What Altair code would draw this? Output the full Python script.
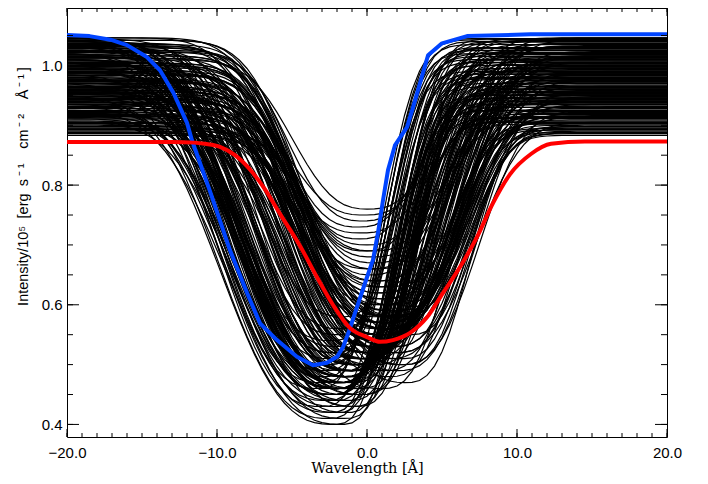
import numpy as np
import pandas as pd
import altair as alt

# ---------------- data ----------------
blue_x = [-20, -18.5, -17.1, -16, -14.67, -13.8, -12.9, -12, -11.67, -10.47, -9.13, -8.0,
          -7.13, -6.0, -4.67, -3.6, -2.67, -2.0, -1.6, -1.2, -0.67, 0.0, 0.4, 0.73, 1.07,
          1.4, 1.87, 2.67, 3.07, 4.07, 5.0, 6.67, 10.9, 20]
blue_y = [1.051, 1.049, 1.043, 1.034, 1.014, 0.992, 0.954, 0.904, 0.875, 0.79, 0.691, 0.620,
          0.569, 0.541, 0.513, 0.499, 0.503, 0.513, 0.529, 0.556, 0.596, 0.646, 0.675, 0.720, 0.775,
          0.825, 0.867, 0.897, 0.930, 1.017, 1.037, 1.049, 1.052, 1.052]

red_x = [-20, -13, -11.5, -10.8, -9.8, -8.8, -7.8, -6.8, -5.8, -4.5, -3.33, -2.27, -1.13,
         0.0, 0.87, 1.73, 2.87, 4.0, 5.07, 6.2, 7.33, 8.4, 9.53, 10.93, 12.27, 14.53, 20]
red_y = [0.872, 0.872, 0.871, 0.869, 0.864, 0.850, 0.826, 0.793, 0.752, 0.700, 0.646, 0.600, 0.561,
         0.546, 0.538, 0.541, 0.553, 0.579, 0.620, 0.663, 0.713, 0.770, 0.818, 0.852, 0.869, 0.873, 0.873]

# black profiles (estimated): (continuum, minimum, line centre, left width, right width)
deep_profiles = [
    (0.950, 0.400, -2.2, 9.0, 4.8), (0.970, 0.410, -2.5, 8.8, 5.0), (1.000, 0.420, -1.9, 8.9, 4.6),
    (1.020, 0.430, -3.0, 8.4, 5.2), (0.930, 0.440, -1.5, 8.8, 5.0), (0.990, 0.420, -1.3, 8.6, 4.8),
    (1.030, 0.450, -2.3, 8.4, 5.0), (0.960, 0.460, -1.0, 8.8, 5.0), (0.980, 0.440, -2.7, 8.2, 5.3),
    (1.010, 0.470, -1.7, 8.4, 4.9), (0.940, 0.430, -0.7, 8.6, 5.2), (1.040, 0.460, -2.0, 8.0, 5.0),
    (0.920, 0.450, -0.3, 8.4, 5.4), (0.970, 0.480, -1.4, 8.2, 5.1), (0.905, 0.410, -1.5, 8.6, 5.0),
    (0.925, 0.430, -2.0, 8.9, 4.9), (0.945, 0.400, -1.7, 9.0, 4.8), (0.965, 0.440, -1.1, 8.5, 5.1),
    (0.985, 0.420, -2.4, 8.7, 4.7), (1.005, 0.450, -1.4, 8.3, 5.0), (1.025, 0.430, -0.9, 8.6, 5.2),
    (1.045, 0.470, -1.8, 8.2, 4.9), (0.915, 0.460, -0.5, 8.8, 5.3), (0.935, 0.440, -2.1, 8.5, 4.8),
    (0.955, 0.480, -1.2, 8.3, 5.1), (0.975, 0.450, -0.4, 8.9, 5.4), (0.995, 0.470, -1.6, 8.1, 5.0),
    (1.015, 0.490, -0.8, 8.4, 5.2),
]

steep_cont = [1.045, 1.040, 1.035, 1.030, 1.025, 1.020, 1.015, 1.010, 1.000, 0.990, 0.980, 1.043, 1.028, 1.005]
steep_min = [0.50, 0.52, 0.48, 0.55, 0.51, 0.47, 0.53, 0.50, 0.56, 0.49, 0.52, 0.46, 0.58, 0.54]
steep_centre = [-2.6, -2.2, -2.8, -1.9, -2.4, -3.0, -2.0, -2.5, -1.7, -2.7, -2.1, -3.2, -1.5, -2.3]
steep_wl = [7.8, 7.6, 8.0, 7.4, 7.7, 8.2, 7.5, 7.9, 7.3, 8.0, 7.6, 8.3, 7.2, 7.7]
steep_wr = [4.6, 4.5, 4.7, 4.5, 4.6, 4.8, 4.5, 4.6, 4.5, 4.7, 4.6, 4.9, 4.4, 4.6]

mid_cont = [0.902, 0.904, 0.907, 0.909, 0.911, 0.914, 0.916, 0.918, 0.921, 0.923, 0.925, 0.928, 0.930, 0.932,
            0.935, 0.937, 0.939, 0.942, 0.944, 0.946, 0.949, 0.951, 0.953, 0.956, 0.958, 0.960, 0.963, 0.965,
            0.967, 0.970, 0.972, 0.974, 0.977, 0.979, 0.981, 0.984, 0.986, 0.988, 0.991, 0.993, 0.995, 0.998,
            1.000, 1.002, 1.005, 1.007, 1.009, 1.012, 1.014, 1.016, 1.019, 1.021, 1.023, 1.026, 1.028, 1.030,
            1.033, 1.035, 1.037, 1.040, 1.042, 1.044, 1.046, 0.947, 0.962, 0.976, 0.989, 1.003, 1.018, 1.032,
            0.903, 0.913, 0.924, 0.934, 0.943, 0.952, 0.961, 0.969, 0.978, 0.987, 0.996, 1.004, 1.013, 1.022,
            1.031, 1.039, 1.046, 0.919, 0.957, 0.994]
mid_min = [0.47, 0.52, 0.49, 0.55, 0.46, 0.51, 0.57, 0.48, 0.53, 0.50, 0.45, 0.54, 0.49, 0.56, 0.47, 0.52,
           0.58, 0.48, 0.51, 0.46, 0.55, 0.50, 0.53, 0.47, 0.57, 0.49, 0.52, 0.45, 0.54, 0.48, 0.56, 0.51,
           0.46, 0.53, 0.50, 0.58, 0.47, 0.52, 0.49, 0.55, 0.46, 0.51, 0.57, 0.48, 0.53, 0.50, 0.45, 0.54,
           0.49, 0.56, 0.47, 0.52, 0.58, 0.48, 0.51, 0.46, 0.55, 0.50, 0.53, 0.47, 0.57, 0.49, 0.52, 0.50,
           0.48, 0.54, 0.46, 0.52, 0.49, 0.55,
           0.51, 0.46, 0.55, 0.49, 0.53, 0.47, 0.57, 0.50, 0.45, 0.54, 0.48, 0.56, 0.51, 0.46, 0.53, 0.49,
           0.55, 0.52, 0.47, 0.50]
mid_centre = [-1.0, 0.2, -1.6, 0.8, -2.0, -0.4, 1.2, -1.3, 0.5, -0.7, -2.2, 0.9, -1.1, 1.4, -1.8, 0.0,
              1.6, -1.5, -0.2, -2.1, 1.0, -0.8, 0.6, -1.7, 1.3, -1.2, 0.3, -2.2, 0.7, -1.4, 1.1, -0.5,
              -1.9, 0.4, -0.9, 1.5, -1.6, 0.1, -1.0, 0.9, -2.0, -0.3, 1.2, -1.3, 0.5, -0.6, -2.1, 0.8,
              -1.1, 1.3, -1.8, 0.2, 1.6, -1.5, -0.1, -2.0, 1.0, -0.7, 0.6, -1.7, 1.4, -1.2, 0.3, -0.8,
              -1.4, 0.7, -1.9, 0.2, -1.0, 1.0,
              0.3, -1.5, 1.1, -0.6, 0.8, -1.9, 1.4, -0.2, -2.3, 1.0, -1.0, 1.2, 0.0, -1.7, 0.6, -0.9,
              0.9, 0.4, -1.2, -0.4]
mid_wl = [7.6, 7.0, 7.9, 6.9, 8.1, 7.3, 6.8, 7.8, 7.1, 7.5, 8.2, 6.9, 7.7, 6.8, 8.0, 7.2, 6.8, 7.9,
          7.3, 8.1, 7.0, 7.5, 7.1, 7.9, 6.9, 7.7, 7.2, 8.2, 7.0, 7.8, 6.9, 7.4, 8.0, 7.1, 7.5, 6.8,
          7.9, 7.2, 7.6, 7.0, 8.1, 7.3, 6.8, 7.8, 7.1, 7.5, 8.2, 6.9, 7.7, 6.8, 8.0, 7.2, 6.8, 7.9,
          7.3, 8.1, 7.0, 7.5, 7.1, 7.9, 6.9, 7.7, 7.2, 7.5, 7.8, 7.0, 8.0, 7.2, 7.6, 7.0,
          7.2, 8.0, 6.9, 7.5, 7.0, 8.1, 6.8, 7.3, 8.3, 6.9, 7.7, 6.8, 7.3, 8.0, 7.1, 7.6,
          7.0, 7.2, 7.8, 7.4]
mid_wr = [5.4, 5.8, 5.2, 6.0, 5.0, 5.5, 6.1, 5.3, 5.8, 5.5, 4.9, 6.0, 5.3, 6.2, 5.1, 5.7, 6.2, 5.2,
          5.6, 5.0, 6.0, 5.4, 5.8, 5.1, 6.1, 5.3, 5.7, 4.9, 5.9, 5.2, 6.0, 5.5, 5.0, 5.8, 5.4, 6.2,
          5.1, 5.7, 5.3, 5.9, 5.0, 5.6, 6.1, 5.2, 5.8, 5.5, 4.9, 6.0, 5.3, 6.1, 5.1, 5.7, 6.2, 5.2,
          5.6, 5.0, 6.0, 5.4, 5.8, 5.1, 6.1, 5.3, 5.7, 5.4, 5.2, 5.9, 5.0, 5.7, 5.3, 5.9,
          5.7, 5.1, 6.0, 5.4, 5.9, 5.0, 6.1, 5.5, 4.9, 6.0, 5.3, 6.1, 5.6, 5.0, 5.8, 5.3,
          5.9, 5.8, 5.2, 5.5]

broad_cont = [0.905, 0.915, 0.925, 0.935, 0.945, 0.955, 0.965, 0.975, 0.990, 1.005]
broad_min = [0.52, 0.55, 0.50, 0.57, 0.53, 0.49, 0.56, 0.51, 0.54, 0.58]
broad_centre = [1.8, 1.2, 2.2, 1.0, 1.6, 2.0, 0.8, 1.4, 1.1, 0.6]
broad_wl = [7.0, 7.2, 6.8, 7.3, 7.0, 6.9, 7.4, 7.1, 7.2, 7.5]
broad_wr = [6.4, 6.6, 6.2, 6.8, 6.5, 6.3, 6.9, 6.6, 6.7, 7.0]

shallow_cont = [0.905, 0.912, 0.918, 0.925, 0.931, 0.938, 0.944, 0.951, 0.957, 0.964, 0.970, 0.977, 0.983,
                0.990, 0.996, 1.003, 1.009, 1.016, 1.022, 1.029, 1.035, 1.042, 0.915, 0.948, 0.973, 0.999,
                1.025, 0.941, 0.986, 1.012]
shallow_min = [0.60, 0.66, 0.58, 0.72, 0.62, 0.68, 0.59, 0.75, 0.64, 0.61, 0.70, 0.58, 0.67, 0.73, 0.60,
               0.63, 0.76, 0.59, 0.69, 0.62, 0.65, 0.71, 0.63, 0.58, 0.66, 0.61, 0.74, 0.69, 0.64, 0.60]
shallow_centre = [0.8, 0.2, 1.4, -0.4, 1.0, 0.4, 1.8, -0.2, 0.6, 1.2, 0.0, 1.6, 0.5, -0.6, 1.1, 0.7, 0.1,
                  1.5, -0.1, 0.9, 0.3, -0.5, 1.3, 2.0, 0.6, 1.0, -0.3, 0.4, 0.8, 1.7]
shallow_wl = [6.6, 6.3, 7.0, 6.0, 6.8, 6.2, 7.2, 5.9, 6.5, 6.9, 6.1, 7.1, 6.4, 5.8, 6.7, 6.5, 6.0, 7.0,
              6.2, 6.8, 6.4, 6.0, 6.9, 7.2, 6.5, 6.7, 5.9, 6.3, 6.6, 7.0]
shallow_wr = [5.8, 5.6, 6.1, 5.4, 5.9, 5.6, 6.3, 5.5, 5.8, 6.0, 5.5, 6.2, 5.7, 5.3, 6.0, 5.8, 5.5, 6.2,
              5.4, 5.9, 5.6, 5.3, 6.0, 6.4, 5.8, 5.9, 5.4, 5.6, 5.8, 6.1]

low_cont = [0.883, 0.886, 0.888, 0.890, 0.892, 0.894, 0.895, 0.897, 0.898, 0.900, 0.887, 0.893]
low_min = [0.50, 0.52, 0.48, 0.55, 0.46, 0.58, 0.50, 0.47, 0.53, 0.49, 0.51, 0.56]
low_centre = [2.5, 2.0, 1.5, 2.8, 1.0, 2.2, 0.5, 2.6, 1.8, 1.2, 2.3, 1.6]
low_wl = [7.0, 7.2, 7.5, 6.8, 7.8, 6.6, 7.4, 7.3, 7.0, 7.6, 7.1, 6.9]
low_wr = [5.0, 5.4, 5.3, 5.0, 5.2, 5.4, 5.5, 5.0, 5.5, 5.4, 5.2, 5.5]

x_major = [-20, -10, 0, 10, 20]
x_minor = list(range(-20, 21))
y_major = [0.4, 0.6, 0.8, 1.0]
y_minor = [0.40, 0.45, 0.50, 0.55, 0.60, 0.65, 0.70, 0.75, 0.80, 0.85, 0.90, 0.95, 1.00, 1.05]

# ---------------- build tables ----------------
profiles = list(deep_profiles)
profiles += list(zip(steep_cont, steep_min, steep_centre, steep_wl, steep_wr))
profiles += list(zip(mid_cont, mid_min, mid_centre, mid_wl, mid_wr))
profiles += list(zip(broad_cont, broad_min, broad_centre, broad_wl, broad_wr))
profiles += list(zip(shallow_cont, shallow_min, shallow_centre, shallow_wl, shallow_wr))
profiles += list(zip(low_cont, low_min, low_centre, low_wl, low_wr))

wav = np.round(np.arange(-20, 20.001, 0.5), 3)
rows = []
for i, (c, m, x0, wl, wr) in enumerate(profiles):
    d = wav - x0
    w = np.where(d < 0, wl, wr)
    p = np.where(d < 0, 2.7, 2.8)
    prof = c - (c - m) * np.exp(-(np.abs(d) / w) ** p)
    for xv, yv in zip(wav, prof):
        rows.append((i, float(xv), float(yv)))
black_df = pd.DataFrame(rows, columns=["id", "x", "y"])
blue_df = pd.DataFrame({"x": blue_x, "y": blue_y})
red_df = pd.DataFrame({"x": red_x, "y": red_y})

W, H = 600, 429
xs = alt.Scale(domain=[-20, 20], nice=False, zero=False)
ys = alt.Scale(domain=[0.379, 1.096], nice=False, zero=False)

x_axis = alt.Axis(values=x_major, format=".1f", ticks=False, domain=False, grid=False,
                  labelFlush=False, labelOverlap=False,
                  labelFont="Liberation Sans", labelFontSize=15, labelColor="black",
                  labelPadding=8, title="Wavelength [Å]", titleFont="DejaVu Serif",
                  titleFontSize=14.5, titleFontWeight="normal", titleColor="black",
                  titleY=35.5, titleBaseline="alphabetic")
y_axis = alt.Axis(values=y_major, format=".1f", ticks=False, domain=False, grid=False,
                  labelFlush=False, labelOverlap=False,
                  labelFont="Liberation Sans", labelFontSize=15, labelColor="black",
                  labelPadding=5,
                  title="Intensity/10⁵\u2002[erg\u2002s\u2009⁻\u2009¹\u2002\u2002cm\u2009⁻\u2009²\u2002\u2002Å\u2009⁻\u2009¹\u2009]",
                  titleFont="Liberation Sans", titleFontSize=14.5, titleFontWeight="normal",
                  titleColor="black", titleX=-40, titleY=178, titleAlign="center",
                  titleBaseline="alphabetic")

black = alt.Chart(black_df).mark_line(color="black", strokeWidth=1.2).encode(
    x=alt.X("x:Q", scale=xs, axis=x_axis),
    y=alt.Y("y:Q", scale=ys, axis=y_axis),
    detail="id:N",
)
blue = alt.Chart(blue_df).mark_line(color="#0044ff", strokeWidth=4, strokeJoin="round").encode(
    x=alt.X("x:Q", scale=xs), y=alt.Y("y:Q", scale=ys))
red = alt.Chart(red_df).mark_line(color="#ff0000", strokeWidth=4, interpolate="monotone").encode(
    x=alt.X("x:Q", scale=xs), y=alt.Y("y:Q", scale=ys))


def xticks(vals, length):
    df = pd.DataFrame({"v": vals})
    base = alt.Chart(df).mark_rule(color="black", strokeWidth=1)
    bot = base.encode(x=alt.X("v:Q", scale=xs), y=alt.value(H), y2=alt.value(H - length))
    top = base.encode(x=alt.X("v:Q", scale=xs), y=alt.value(0), y2=alt.value(length))
    return [bot, top]


def yticks(vals, length):
    df = pd.DataFrame({"v": vals})
    base = alt.Chart(df).mark_rule(color="black", strokeWidth=1)
    left = base.encode(y=alt.Y("v:Q", scale=ys), x=alt.value(0), x2=alt.value(length))
    right = base.encode(y=alt.Y("v:Q", scale=ys), x=alt.value(W), x2=alt.value(W - length))
    return [left, right]


layers = [black, blue, red] + xticks(x_minor, 4) + xticks(x_major, 8) + yticks(y_minor, 6) + yticks(y_major, 12)

chart = alt.layer(*layers).properties(
    width=W, height=H,
    autosize=alt.AutoSizeParams(type="none"),
    padding={"left": 59, "top": 0, "right": 33, "bottom": 39},
).configure_view(stroke="black", strokeWidth=1)

chart.save("out.html", embed_options={"renderer": "svg", "actions": False})
